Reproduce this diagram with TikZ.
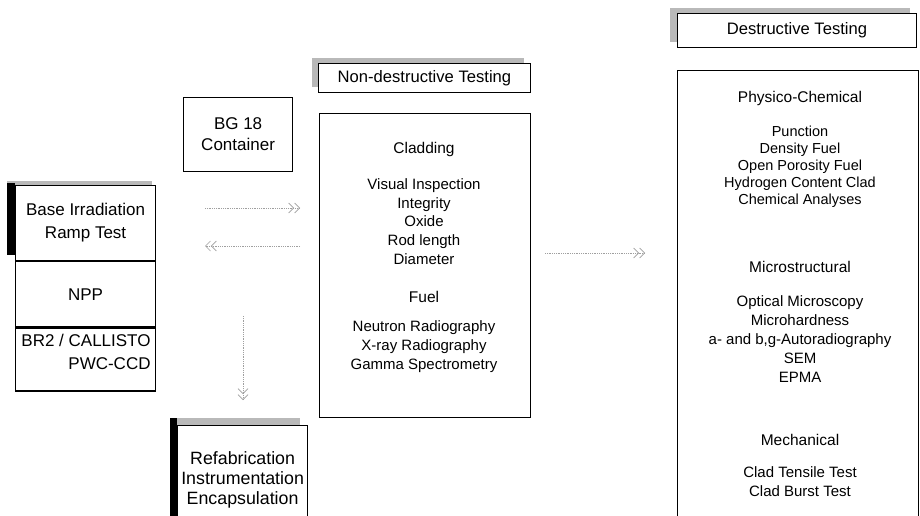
\documentclass[tikz,border=0pt]{standalone}
\usepackage{fontspec}
\setmainfont{Liberation Sans}
\usetikzlibrary{arrows.meta,positioning}

\begin{document}
\begin{tikzpicture}[
  x=1pt, y=-1pt,
  every node/.style={align=center, inner sep=0pt},
  box/.style={draw, line width=1.2pt, fill=white, anchor=north west},
  hdr/.style={draw, line width=0.9pt, fill=white, anchor=north west,
              font=\fontsize{16.6}{20}\selectfont},
  big/.style={font=\fontsize{17}{23}\selectfont},
  sect/.style={font=\fontsize{15.5}{19}\selectfont},
  item/.style={font=\fontsize{15}{18.8}\selectfont},
  shd/.style={fill=black},
  shdg/.style={fill=gray!55},
  arr/.style={densely dotted, draw=gray!75, line width=0.8pt,
              -{Straight Barb[length=5pt,width=10pt,line width=0.7pt]Straight Barb[length=5pt,width=10pt,line width=0.7pt]}}
]
\clip (0,0) rectangle (920,516);
\fill[white] (0,0) rectangle (920,516);

% reactor side
\fill[shdg] (7,181) rectangle (152,186);
\fill[shd] (7,183) rectangle (15,255);
\node[box, big, minimum width=140pt, minimum height=75pt] (base) at (15,185) {Base Irradiation\\Ramp Test};
\node[box, big, minimum width=140pt, minimum height=65pt] (npp) at (base.south west) {NPP};
\node[box, big, minimum width=140pt, minimum height=63pt] (br2) at (npp.south west) {};
\node[big, align=right] (br2txt) at (86,352) {BR2 / CALLISTO\\PWC-CCD};

\node[box, big, minimum width=109pt, minimum height=74pt,
      font=\fontsize{17}{21}\selectfont] (bg18) at (183,97) {BG 18\\Container};

\fill[shdg] (170,418) rectangle (300,425);
\fill[shd] (170,418) rectangle (177,530);
\node[box, minimum width=130pt, minimum height=108pt,
      font=\fontsize{17.8}{20}\selectfont] (refab) at (177,425) {Refabrication\\Instrumentation\\Encapsulation};

% non-destructive testing
\fill[shdg] (312,58) rectangle (524,87);
\node[hdr, minimum width=212pt, minimum height=29pt] (ndt) at (318,63) {Non-destructive Testing};
\node[box, minimum width=211pt, minimum height=304pt] (ndbox) at (319,113) {};
\node[sect] (clad) at (424,149) {Cladding};
\node[item] (cladlist) at (424,221.5) {Visual Inspection\\Integrity\\Oxide\\Rod length\\Diameter};
\node[sect] (fuel) at (424,297) {Fuel};
\node[item] (fuellist) at (424,346.5) {Neutron Radiography\\X-ray Radiography\\Gamma Spectrometry};

% destructive testing
\fill[shdg] (670,8) rectangle (910,42);
\node[hdr, minimum width=239pt, minimum height=34pt] (dt) at (677,13) {Destructive Testing};
\node[box, minimum width=241pt, minimum height=470pt] (dtbox) at (677,70) {};
\node[sect] (phys) at (800,98) {Physico-Chemical};
\node[item, font=\fontsize{14.5}{17}\selectfont] (physlist) at (800,167) {Punction\\Density Fuel\\Open Porosity Fuel\\Hydrogen Content Clad\\Chemical Analyses};
\node[sect] (micro) at (800,267) {Microstructural};
\node[item] (microlist) at (800,339) {Optical Microscopy\\Microhardness\\a- and b,g-Autoradiography\\SEM\\EPMA};
\node[sect] (mech) at (800,440) {Mechanical};
\node[item] (mechlist) at (800,482) {Clad Tensile Test\\Clad Burst Test};

% transfers
\coordinate (toNd) at (300,208);
\coordinate (fromRx) at (205,208);
\coordinate (toRx) at (205,246);
\coordinate (fromNd) at (300,246);
\coordinate (downS) at (243,316);
\coordinate (downE) at (243,400);
\coordinate (toDtS) at (545,253);
\coordinate (toDtE) at (645,253);

\draw[arr] (fromRx) -- (toNd);
\draw[arr] (fromNd) -- (toRx);
\draw[arr] (downS) -- (downE);
\draw[arr] (toDtS) -- (toDtE);
\end{tikzpicture}
\end{document}
